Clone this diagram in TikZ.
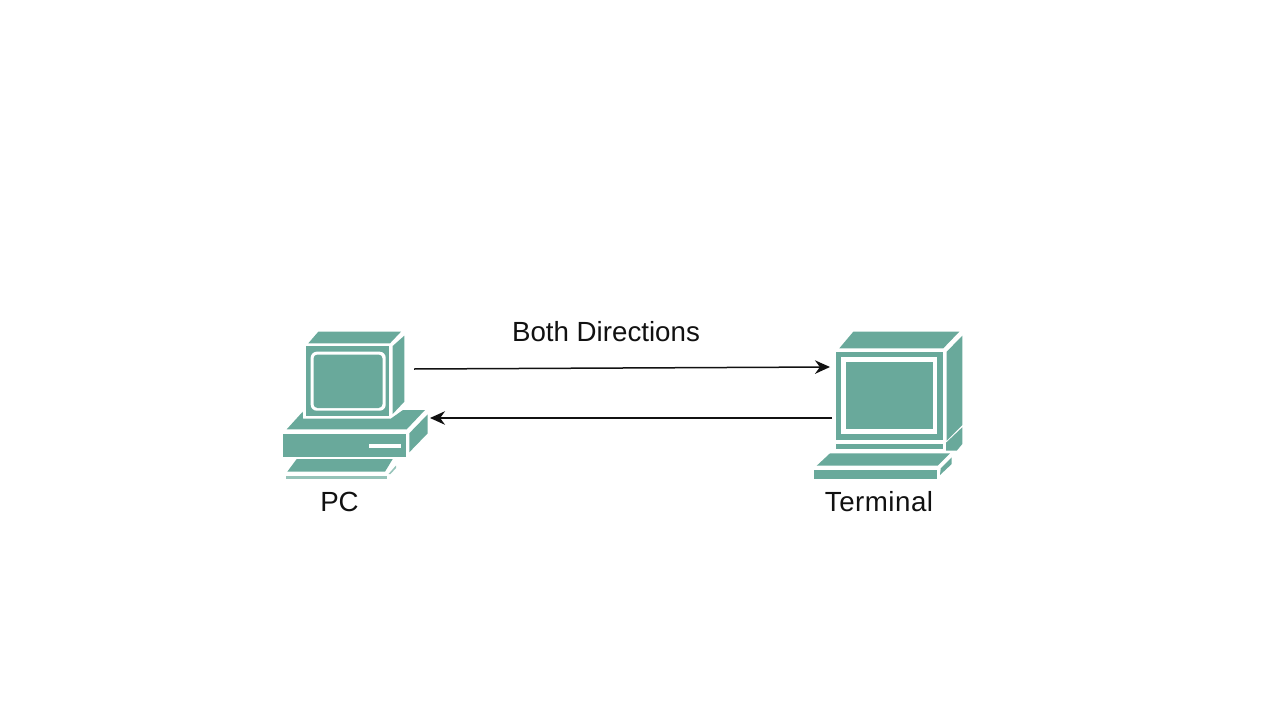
\documentclass[tikz,border=0pt]{standalone}
\usepackage{fontspec}
\setmainfont{Liberation Sans}
\usetikzlibrary{arrows.meta}
\definecolor{dev}{HTML}{69A99B}
\definecolor{ink}{HTML}{111111}
\tikzset{
  part/.style={fill=dev,draw=none},
  thinpart/.style={fill=dev!70!white,draw=none},
  gap/.style={fill=white,draw=none},
  label/.style={inner sep=0pt,text=ink,font=\fontsize{27.7}{30}\selectfont},
  link/.style={draw=ink,line width=1.5pt,-{Stealth[length=15pt,width=13.5pt]}},
}
\begin{document}
\begin{tikzpicture}[x=1pt,y=-1pt]
\useasboundingbox (0,0) rectangle (1280,720);
% PC
\fill[part] (308.3,343.3)--(318.3,331.7)--(401,331.7)--(390,343.3)--cycle;
\fill[part] (392.7,346)--(404.3,335.7)--(404.3,401.7)--(392.7,414)--cycle;
\fill[part] (306,346) rectangle (389.3,416);
\fill[gap,rounded corners=6pt] (310.7,351.7) rectangle (385.7,410.7);
\fill[part,rounded corners=4pt] (313.5,354.5) rectangle (382.5,408);
\fill[part] (286.7,429.3)--(302.7,411.7)--(303,418.5)--(391,418.5)--(403,410)--(425,410)--(406.7,429.3)--cycle;
\fill[part] (282.7,434) rectangle (405.7,456.7);
\fill[gap] (369,444) rectangle (400.7,447.7);
\fill[part] (409.3,433.3)--(427.7,414.3)--(427.7,433.3)--(409.3,452.3)--cycle;
\fill[part] (287.3,471.7)--(296.7,459)--(392.7,459)--(385,471.7)--cycle;
\fill[thinpart] (286,476) rectangle (386.7,479.3);
\fill[thinpart] (388.5,474)--(396,465.5)--(396,468)--(390.5,474)--cycle;
% Terminal
\fill[part] (839.3,348.3)--(853.3,331.7)--(959.3,331.7)--(943.3,348.3)--cycle;
\fill[part] (946.7,351.7)--(962.3,335.7)--(962.3,425)--(946.7,440.7)--cycle;
\fill[part] (946,442.7)--(962.3,427.3)--(962.3,444)--(956.7,450.7)--(946,450.7)--cycle;
\fill[part] (836,351.7) rectangle (942.7,440);
\fill[gap] (840.7,357.3) rectangle (937.3,434);
\fill[part] (845.7,362.3) rectangle (932.7,429);
\fill[part] (836,444) rectangle (942.7,449.3);
\fill[part] (816.7,465.7)--(830,453.3)--(950,453.3)--(937.7,465.7)--cycle;
\fill[part] (814,470) rectangle (937.3,478.7);
\fill[part] (940.7,468.3)--(951.7,457.3)--(951.7,464)--(940,475)--cycle;
% Labels
\node[label] (pclabel) at (339.5,502) {PC};
\node[label] (termlabel) at (879,502) {\addfontfeature{LetterSpace=1.8}Terminal};
\node[label] (bothlabel) at (606,332) {Both Directions};
% Connector ends
\coordinate (pcout) at (414,369);
\coordinate (termin) at (830,367);
\coordinate (termout) at (832,418);
\coordinate (pcin) at (430,418);
\draw[link] (pcout) -- (termin);
\draw[link] (termout) -- (pcin);
\end{tikzpicture}
\end{document}
